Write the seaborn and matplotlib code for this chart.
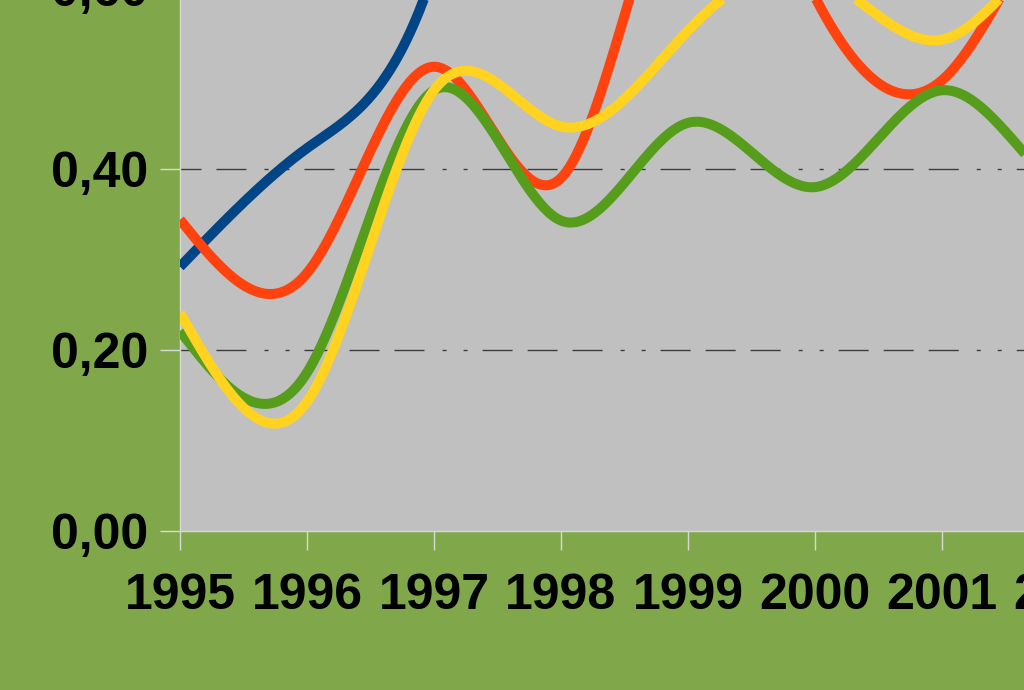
import numpy as np
import pandas as pd
import matplotlib
matplotlib.use("Agg")
import matplotlib.pyplot as plt
import seaborn as sns

# yearly values (values above 0.59 are off-canvas guesses)
years = [1995, 1996, 1997, 1998, 1999, 2000, 2001, 2002, 2003]
blue = [0.292, 0.423, 0.62, 1.15, 1.20, 1.10, 1.00, 1.00, 1.00]
red = [0.344, 0.285, 0.513, 0.390, 0.76, 0.59, 0.498, 0.70, 0.65]
green = [0.221, 0.175, 0.487, 0.343, 0.451, 0.380, 0.487, 0.37, 0.40]
yellow = [0.241, 0.143, 0.487, 0.447, 0.553, 0.615, 0.543, 0.66, 0.62]

series_names = ["A", "B", "C", "D"]
colors = ["#004586", "#FF420E", "#579D1C", "#FFD320"]
y_ticks = [0.0, 0.2, 0.4, 0.6]
y_labels = ["0,00", "0,20", "0,40", "0,60"]


def natural_spline(x, y, n=60):
    # natural cubic spline, like the "smooth line" of the office chart
    x = np.asarray(x, float)
    y = np.asarray(y, float)
    k = len(x)
    h = np.diff(x)
    A = np.zeros((k, k))
    b = np.zeros(k)
    A[0, 0] = A[-1, -1] = 1
    for i in range(1, k - 1):
        A[i, i - 1] = h[i - 1]
        A[i, i] = 2 * (h[i - 1] + h[i])
        A[i, i + 1] = h[i]
        b[i] = 6 * ((y[i + 1] - y[i]) / h[i] - (y[i] - y[i - 1]) / h[i - 1])
    M = np.linalg.solve(A, b)
    xs, ys = [], []
    for i in range(k - 1):
        t = np.linspace(x[i], x[i + 1], n, endpoint=(i == k - 2))
        hi = h[i]
        s = (M[i] * (x[i + 1] - t) ** 3 / (6 * hi)
             + M[i + 1] * (t - x[i]) ** 3 / (6 * hi)
             + (y[i] / hi - M[i] * hi / 6) * (x[i + 1] - t)
             + (y[i + 1] / hi - M[i + 1] * hi / 6) * (t - x[i]))
        xs.append(t)
        ys.append(s)
    return np.concatenate(xs), np.concatenate(ys)


frames = []
for name, vals in zip(series_names, [blue, red, green, yellow]):
    sx, sy = natural_spline(years, vals)
    frames.append(pd.DataFrame({"year": sx, "value": sy, "series": name}))
df = pd.concat(frames, ignore_index=True)

sns.set_style("white")
plt.rcParams["font.family"] = ["Liberation Sans", "DejaVu Sans"]
plt.rcParams["lines.scale_dashes"] = False
plt.rcParams["text.color"] = "black"
plt.rcParams["xtick.labelcolor"] = "black"
plt.rcParams["ytick.labelcolor"] = "black"

fig = plt.figure(figsize=(10.24, 6.9), dpi=100, facecolor="#80A84A")
ax = fig.add_axes([180 / 1024, 159 / 690, 8 * 127 / 1024, 0.8 * 905 / 690])
ax.set_facecolor("#C0C0C0")

# office-style dash-dot-dot grid: three dashes then two dots
grid_style = (38.9, (21.6, 10.8, 21.6, 10.8, 21.6, 13.0, 2.9, 12.2, 2.9, 10.8))
for y in y_ticks[1:]:
    ax.axhline(y, color="#3c3c3c", lw=1, linestyle=grid_style, zorder=1)

sns.lineplot(data=df, x="year", y="value", hue="series", palette=colors,
             hue_order=series_names, lw=7.2, legend=False, ax=ax,
             solid_capstyle="butt", sort=False, zorder=3)

ax.set_xlim(1995, 2003)
ax.set_ylim(0, 0.8)
ax.set_xticks(years)
ax.set_xticklabels([str(y) for y in years], fontsize=36, fontweight="bold", color="black")
ax.set_yticks(y_ticks)
ax.set_yticklabels(y_labels, fontsize=36, fontweight="bold", color="black")
ax.set_xlabel("")
ax.set_ylabel("")
ax.tick_params(axis="x", length=13.7, width=1, color="#d8d8d8", pad=16.5, bottom=True)
ax.tick_params(axis="y", length=14.4, width=1, color="#d8d8d8", pad=8.6, left=True)
for side in ["top", "right"]:
    ax.spines[side].set_visible(False)
for side in ["left", "bottom"]:
    ax.spines[side].set_color("#d8d8d8")
    ax.spines[side].set_linewidth(1)

fig.savefig("out.png", dpi=100, facecolor=fig.get_facecolor())
